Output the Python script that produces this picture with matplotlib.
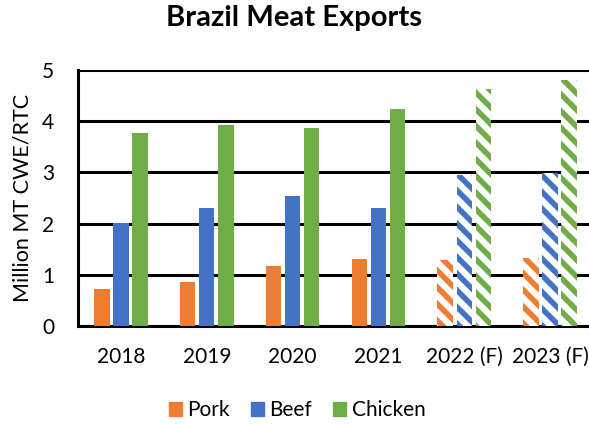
import numpy as np
import matplotlib
matplotlib.use("Agg")
import matplotlib.pyplot as plt
from matplotlib.patches import Patch

years = ["2018", "2019", "2020", "2021", "2022 (F)", "2023 (F)"]
forecast = [False, False, False, False, True, True]
pork = [0.72, 0.85, 1.17, 1.31, 1.29, 1.32]
beef = [2.02, 2.30, 2.54, 2.30, 2.95, 2.98]
chicken = [3.76, 3.93, 3.87, 4.24, 4.62, 4.80]

ORANGE, BLUE, GREEN = "#ED7D31", "#4472C4", "#70AD47"
FONT = "Lato"

plt.rcParams.update({"font.family": FONT, "hatch.linewidth": 4.0})

fig = plt.figure(figsize=(5.89, 4.25), dpi=100)
ax = fig.add_axes([78 / 589, 1 - 326 / 425, 515 / 589, 256 / 425])

x = np.arange(len(years))
W, STEP = 0.18, 0.222
for off, vals, col in ((-STEP, pork, ORANGE), (0, beef, BLUE), (STEP, chicken, GREEN)):
    for xi, v, fc in zip(x, vals, forecast):
        if fc:
            # forecast years: white bar with wide downward diagonal stripes
            ax.bar(xi + off, v, W, facecolor="white", edgecolor=col, lw=0,
                   hatch="\\\\", zorder=3)
        else:
            ax.bar(xi + off, v, W, color=col, lw=0, zorder=3)

ax.set_xlim(-0.5, 5.5)
ax.set_ylim(0, 5)
ax.set_yticks([0, 1, 2, 3, 4, 5])
ax.set_xticks(x)
ax.set_xticklabels(years)
ax.grid(axis="y", color="black", lw=2.2, zorder=0)
ax.set_axisbelow(True)
for s in ("top", "right"):
    ax.spines[s].set_visible(False)
for s in ("left", "bottom"):
    ax.spines[s].set_linewidth(2.2)
ax.tick_params(axis="both", length=0, labelsize=15)
ax.tick_params(axis="y", pad=17)
ax.tick_params(axis="x", pad=15)
ax.set_ylabel("Million MT CWE/RTC", fontsize=15.5, labelpad=7)

fig.text(0.5, 1 - 18 / 425, "Brazil Meat Exports", ha="center", va="center",
         fontsize=21, fontweight="bold")

handles = [Patch(color=ORANGE, label="Pork"), Patch(color=BLUE, label="Beef"),
           Patch(color=GREEN, label="Chicken")]
fig.legend(handles=handles, loc="center", bbox_to_anchor=(297 / 589, 1 - 410 / 425),
           ncol=3, frameon=False, fontsize=15, handlelength=0.65, handleheight=0.65,
           handletextpad=0.25, columnspacing=1.0)

fig.savefig("out.png", dpi=100)
